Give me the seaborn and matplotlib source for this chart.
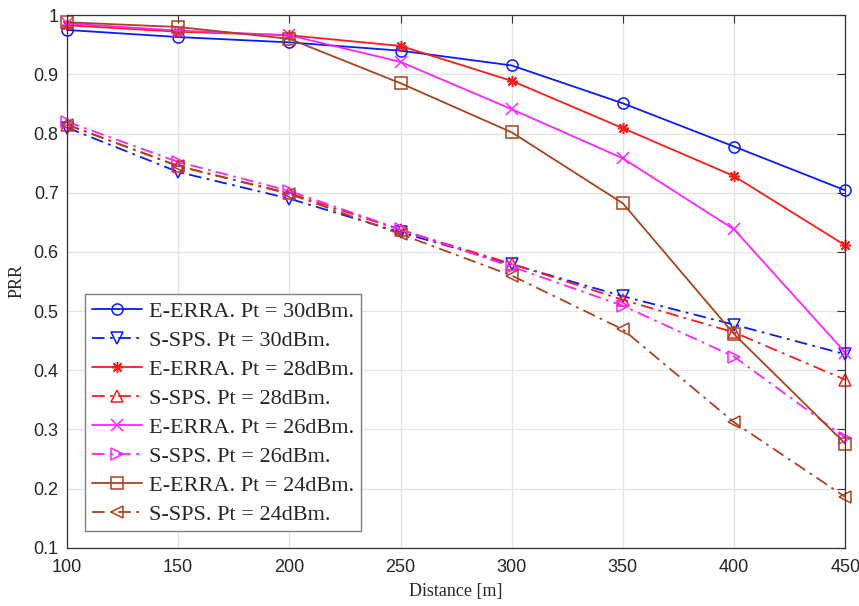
import numpy as np
import pandas as pd
import matplotlib
matplotlib.use('Agg')
import matplotlib.pyplot as plt
import seaborn as sns

sns.set_style('white')

distance = [100, 150, 200, 250, 300, 350, 400, 450]

# E-ERRA curves
erra_30 = [0.975, 0.963, 0.954, 0.940, 0.915, 0.851, 0.778, 0.704]
erra_28 = [0.983, 0.972, 0.966, 0.948, 0.889, 0.809, 0.728, 0.611]
erra_26 = [0.986, 0.974, 0.966, 0.921, 0.841, 0.758, 0.638, 0.430]
erra_24 = [0.988, 0.980, 0.960, 0.885, 0.802, 0.682, 0.461, 0.276]

# S-SPS curves
sps_30 = [0.810, 0.735, 0.690, 0.633, 0.579, 0.525, 0.477, 0.427]
sps_28 = [0.815, 0.745, 0.699, 0.637, 0.580, 0.519, 0.464, 0.384]
sps_26 = [0.820, 0.752, 0.703, 0.638, 0.575, 0.509, 0.423, 0.286]
sps_24 = [0.815, 0.745, 0.698, 0.630, 0.560, 0.469, 0.312, 0.186]

labels = ['E-ERRA. Pt = 30dBm.', 'S-SPS. Pt = 30dBm.',
          'E-ERRA. Pt = 28dBm.', 'S-SPS. Pt = 28dBm.',
          'E-ERRA. Pt = 26dBm.', 'S-SPS. Pt = 26dBm.',
          'E-ERRA. Pt = 24dBm.', 'S-SPS. Pt = 24dBm.']
series = [erra_30, sps_30, erra_28, sps_28, erra_26, sps_26, erra_24, sps_24]

y_ticks = [0.1, 0.2, 0.3, 0.4, 0.5, 0.6, 0.7, 0.8, 0.9, 1]
y_tick_labels = ['0.1', '0.2', '0.3', '0.4', '0.5', '0.6', '0.7', '0.8', '0.9', '1']

colors = ['#0a1aff', '#0a1aff', '#ff1a1a', '#ff1a1a',
          '#ff22ff', '#ff22ff', '#a9431e', '#a9431e']
markers = ['o', 'v', (8, 2, 0), '^', 'x', '>', 's', '<']

fig = plt.figure(figsize=(8.59, 6.06), dpi=100)
ax = fig.add_axes([0.078, 0.096, 0.906, 0.879])

for i, (lab, vals) in enumerate(zip(labels, series)):
    df = pd.DataFrame({'distance': distance, 'prr': vals})
    sns.lineplot(data=df, x='distance', y='prr', ax=ax, label=lab,
                 color=colors[i], marker=markers[i], markersize=8,
                 markerfacecolor='none', markeredgecolor=colors[i],
                 markeredgewidth=1.1, linewidth=1.3, clip_on=False)
    ln = ax.lines[-1]
    if i % 2 == 1:
        # dash-dot like MATLAB '-.'
        ln.set_dashes((7, 3, 1.5, 3))

ax.set_xlim(100, 450)
ax.set_ylim(0.1, 1)
ax.set_xticks(distance)
ax.set_xticklabels([str(d) for d in distance], family='Liberation Sans', fontsize=13, color='#262626')
ax.set_yticks(y_ticks)
ax.set_yticklabels(y_tick_labels, family='Liberation Sans', fontsize=13, color='#262626')
ax.grid(True, color='#e3e3e3', linewidth=0.9)
ax.set_axisbelow(True)
ax.tick_params(axis='both', direction='in', length=6, width=0.8, color='#333333', top=True, right=True)
ax.tick_params(axis='x', pad=8)
ax.tick_params(axis='y', pad=6)
for sp in ax.spines.values():
    sp.set_color('#333333')
    sp.set_linewidth(0.9)

ax.set_xlabel('Distance [m]', family='Liberation Serif', fontsize=13, labelpad=5)
ax.set_ylabel('PRR', family='Liberation Serif', fontsize=13, labelpad=6)

leg = ax.legend(loc='lower left', bbox_to_anchor=(0.023, 0.031), borderaxespad=0,
                prop={'family': 'Liberation Serif', 'size': 16},
                frameon=True, fancybox=False, edgecolor='#7f7f7f', framealpha=1,
                handlelength=2.25, borderpad=0.3, labelspacing=0.38,
                handletextpad=0.35)
leg.get_frame().set_linewidth(1.0)

fig.savefig('out.png', dpi=100, facecolor='white')
